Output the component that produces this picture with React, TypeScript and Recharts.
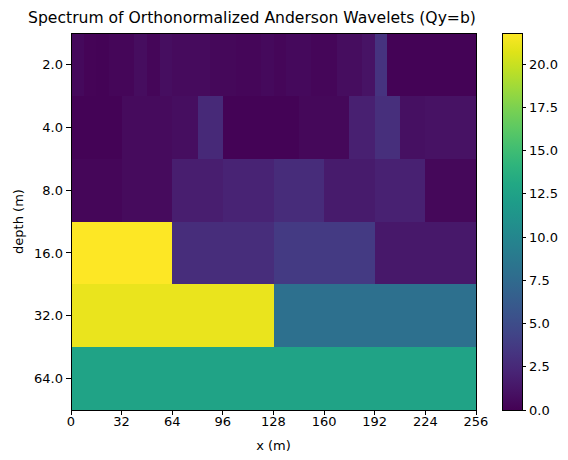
import { BarChart, Bar, ComposedChart, ReferenceArea, XAxis, YAxis } from "recharts";

// depth rows, top to bottom
const depths = ["2.0", "4.0", "8.0", "16.0", "32.0", "64.0"];

// wavelet coefficients per depth level (cells split 0..256 evenly)
const level2 = [
  0.5, 0.2, 0.1, 0.3, 0.3, 0.7, 0.3, 0.8, 0.6, 0.6, 0.6, 0.4, 0.4, 0.3, 0.3, 0.5,
  0.3, 0.5, 0.5, 0.3, 0.3, 0.7, 0.7, 1.1, 3.2, 0.1, 0.1, 0.1, 0.1, 0.1, 0.1, 0.1,
];
const level4 = [0.15, 0.15, 0.6, 0.6, 0.8, 2.5, 0.1, 0.1, 0.15, 0.4, 0.4, 1.9, 2.9, 0.9, 1.0, 1.0];
const level8 = [0.3, 0.6, 1.8, 2.1, 2.7, 1.6, 2.0, 0.4];
const level16 = [21.8, 2.8, 3.7, 1.4];
const level32 = [21.1, 8.0];
const level64 = [12.6];

const xTicks = [0, 32, 64, 96, 128, 160, 192, 224, 256];
const colorTicks = [0, 2.5, 5, 7.5, 10, 12.5, 15, 17.5, 20];
const vmax = 21.8;
const xMax = 256;

const levels = [level2, level4, level8, level16, level32, level64];

const VIRIDIS = [
  "#440154", "#471365", "#482475", "#463480", "#414487", "#3b528b", "#355f8d",
  "#2f6c8e", "#2a788e", "#25848e", "#21918c", "#1e9c89", "#22a884", "#2fb47c",
  "#44bf70", "#5ec962", "#7ad151", "#9bd93c", "#bddf26", "#dfe318", "#fde725",
];

function hex(c: string) {
  return [1, 3, 5].map((i) => parseInt(c.slice(i, i + 2), 16));
}

function viridis(v: number) {
  const t = Math.max(0, Math.min(1, v / vmax)) * (VIRIDIS.length - 1);
  const i = Math.min(Math.floor(t), VIRIDIS.length - 2);
  const f = t - i;
  const a = hex(VIRIDIS[i]);
  const b = hex(VIRIDIS[i + 1]);
  const rgb = a.map((x, k) => Math.round(x + (b[k] - x) * f));
  return `rgb(${rgb.join(",")})`;
}

const cells = levels.flatMap((vals, row) => {
  const w = xMax / vals.length;
  return vals.map((v, i) => ({ row, x0: i * w, x1: (i + 1) * w, v }));
});

const font = "'DejaVu Sans', sans-serif";
const tickStyle = { fontSize: 13, fill: "#000", fontFamily: font };

export default function App() {
  return (
    <div
      style={{
        position: "absolute",
        left: 0,
        top: 0,
        width: 568,
        height: 460,
        background: "#fff",
        fontFamily: font,
        shapeRendering: "crispEdges",
      }}
    >
      <div
        style={{
          position: "absolute",
          left: 0,
          width: 504,
          top: 9,
          textAlign: "center",
          fontSize: 15.6,
          color: "#000",
        }}
      >
        Spectrum of Orthonormalized Anderson Wavelets (Qy=b)
      </div>

      <div style={{ position: "absolute", left: 0, top: 0 }}>
        <ComposedChart width={568} height={460} margin={{ top: 33, right: 92, bottom: 0, left: 0 }}>
          <XAxis
            type="number"
            dataKey="x"
            domain={[0, xMax]}
            ticks={xTicks}
            allowDataOverflow
            height={50}
            tick={tickStyle}
            tickSize={5}
            tickMargin={2}
            stroke="#000"
            label={({ viewBox }: any) => (
              <text
                x={viewBox.x + viewBox.width / 2}
                y={viewBox.y + 40}
                textAnchor="middle"
                fontSize={13}
                fontFamily={font}
                fill="#000"
              >
                x (m)
              </text>
            )}
          />
          <YAxis
            type="number"
            dataKey="y"
            domain={[0, depths.length]}
            reversed
            ticks={depths.map((_, i) => i + 0.5)}
            tickFormatter={(v: number) => depths[Math.floor(v)]}
            allowDataOverflow
            width={71}
            tick={tickStyle}
            tickSize={5}
            tickMargin={3}
            stroke="#000"
            label={({ viewBox }: any) => {
              const cx = 19;
              const cy = viewBox.y + viewBox.height / 2;
              return (
                <text
                  x={cx}
                  y={cy}
                  transform={`rotate(-90 ${cx} ${cy})`}
                  textAnchor="middle"
                  dominantBaseline="middle"
                  fontSize={13}
                  fontFamily={font}
                  fill="#000"
                >
                  depth (m)
                </text>
              );
            }}
          />
          {cells.map((c, i) => (
            <ReferenceArea
              key={i}
              x1={c.x0}
              x2={c.x1}
              y1={c.row}
              y2={c.row + 1}
              fill={viridis(c.v)}
              fillOpacity={1}
              stroke="none"
            />
          ))}
          <ReferenceArea
            x1={0}
            x2={xMax}
            y1={0}
            y2={depths.length}
            fill="none"
            stroke="#000"
            strokeWidth={1}
          />
        </ComposedChart>
      </div>

      <div style={{ position: "absolute", left: 480, top: 0 }}>
        <BarChart
          width={88}
          height={460}
          data={[{ k: "c", v: vmax }]}
          margin={{ top: 33, right: 0, bottom: 50, left: 22 }}
          barCategoryGap={0}
        >
          <defs>
            <linearGradient id="viridisGrad" x1="0" y1="1" x2="0" y2="0">
              {VIRIDIS.map((c, i) => (
                <stop key={i} offset={`${(i / (VIRIDIS.length - 1)) * 100}%`} stopColor={c} />
              ))}
            </linearGradient>
          </defs>
          <XAxis dataKey="k" hide />
          <YAxis
            orientation="right"
            type="number"
            domain={[0, vmax]}
            ticks={colorTicks}
            tickFormatter={(v: number) => v.toFixed(1)}
            width={46}
            tick={tickStyle}
            tickSize={4}
            tickMargin={3}
            stroke="#000"
            axisLine={false}
          />
          <Bar
            dataKey="v"
            fill="url(#viridisGrad)"
            stroke="#000"
            strokeWidth={1}
            isAnimationActive={false}
          />
        </BarChart>
      </div>
    </div>
  );
}
